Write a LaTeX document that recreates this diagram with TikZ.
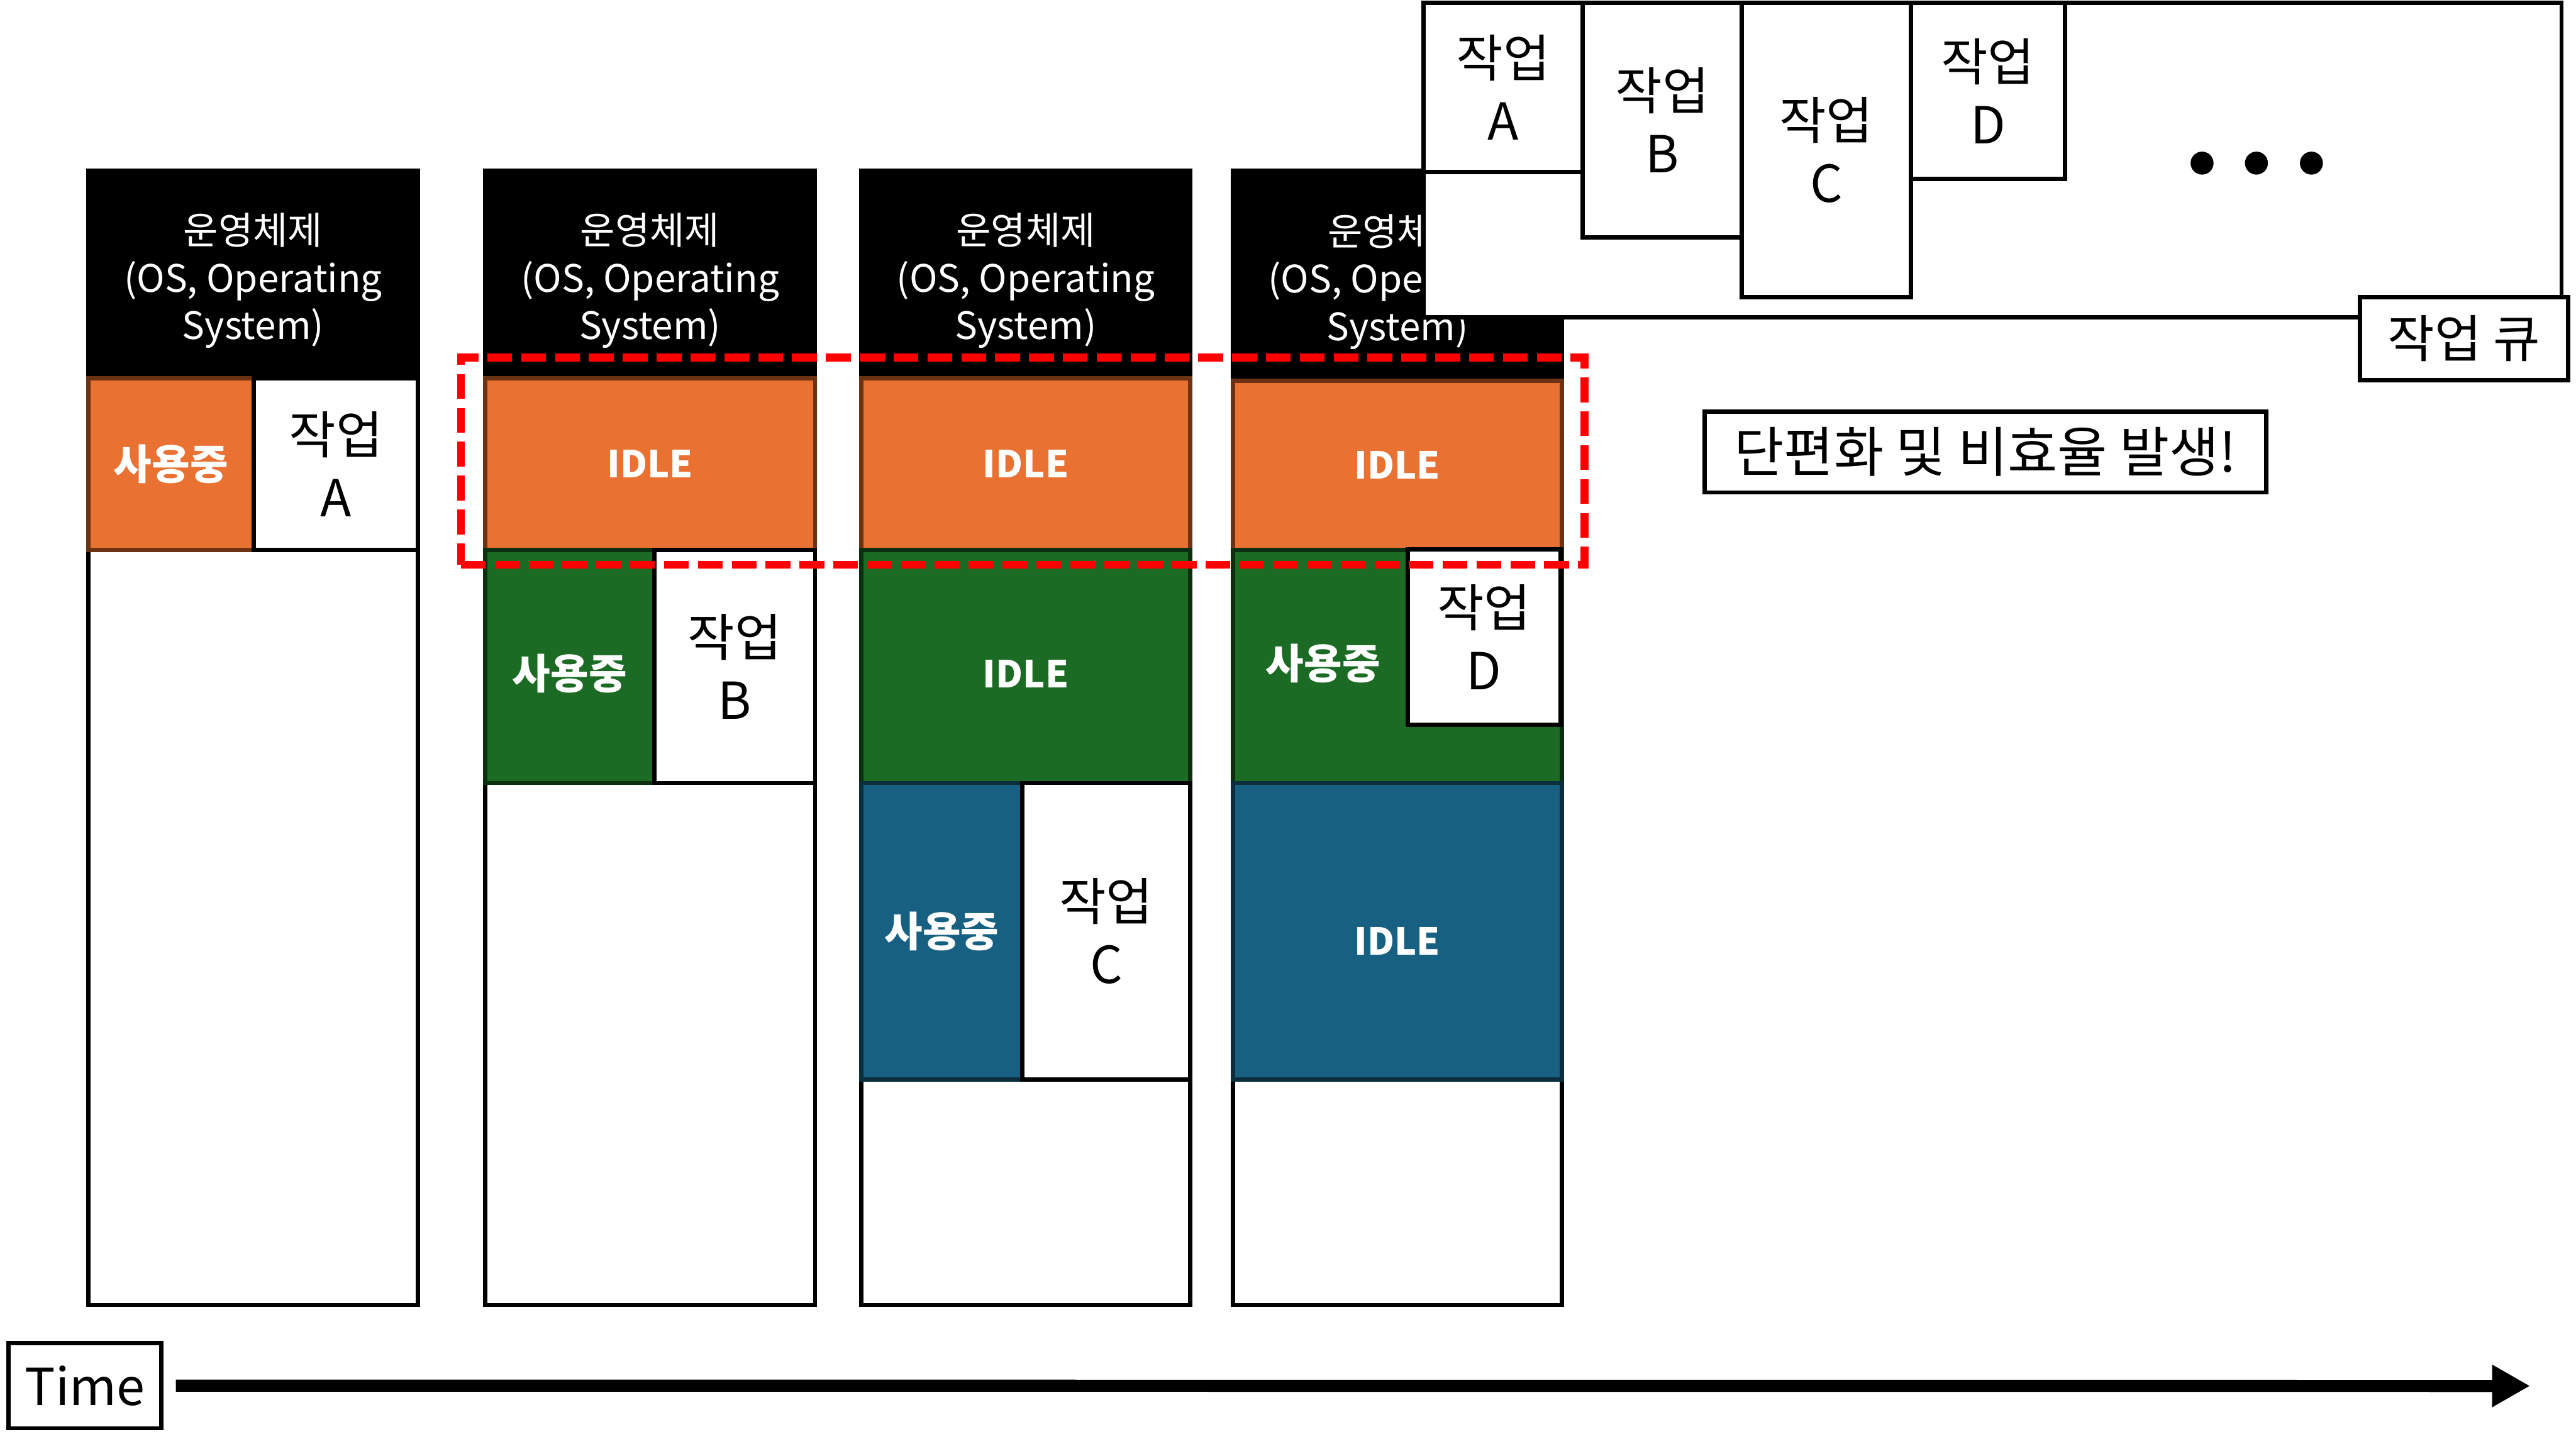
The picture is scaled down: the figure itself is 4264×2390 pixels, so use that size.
\documentclass[tikz,border=0pt]{standalone}
\usepackage{fontspec}
\setmainfont{Noto Sans CJK KR}
\usetikzlibrary{arrows.meta}
\definecolor{cOrange}{HTML}{E97132}
\definecolor{cOrangeD}{HTML}{6B3314}
\definecolor{cGreen}{HTML}{1B6B24}
\definecolor{cGreenD}{HTML}{0C2F10}
\definecolor{cBlue}{HTML}{176082}
\definecolor{cBlueD}{HTML}{0B2E3E}
% #1 style, #2 name, #3 x1, #4 y1, #5 x2, #6 y2, #7 text
\newcommand\mybox[7][]{%
  \pgfmathsetmacro\mycx{(#3+#5)/2}%
  \pgfmathsetmacro\mycy{(#4+#6)/2}%
  \pgfmathsetmacro\myw{(#5-#3)*0.01}%
  \pgfmathsetmacro\myh{(#6-#4)*0.01}%
  \node[#1, minimum width=\myw cm, minimum height=\myh cm] (#2) at (\mycx,\mycy) {#7};}
\newcommand\ostext{운영체제\\(OS, Operating\\System)}
\tikzset{
  base/.style={inner sep=0pt, outer sep=0pt, align=center, line width=0.07cm},
  colbox/.style={base, draw=black, fill=white},
  osbox/.style={base, draw=black, fill=black},
  ostxt/.style={align=center, inner sep=0pt, text=white, font=\fontsize{17.8}{22.3}\selectfont},
  bigtxt/.style={font=\fontsize{24}{29.6}\selectfont},
  boldtxt/.style={text=white, font=\bfseries\fontsize{19.5}{23}\selectfont},
  idletxt/.style={text=white, font=\bfseries\fontsize{17.5}{22}\selectfont},
  orangebox/.style={base, draw=cOrangeD, fill=cOrange},
  greenbox/.style={base, draw=cGreenD, fill=cGreen},
  bluebox/.style={base, draw=cBlueD, fill=cBlue},
  jobbox/.style={base, draw=black, fill=white, bigtxt},
  fragbox/.style={base, draw=red, line width=0.13cm, dash pattern=on 0.41cm off 0.15cm},
  dotnode/.style={circle, fill=black, inner sep=0pt, minimum size=0.38cm},
}
\begin{document}
\begin{tikzpicture}[x=0.01cm, y=-0.01cm]
\useasboundingbox (0,0) rectangle (4264,2390);
\fill[white] (0,0) rectangle (4264,2390);

% Column 1
\mybox[colbox]{c1}{146}{283}{692}{2160}{}
\mybox[osbox]{os1}{146}{283}{692}{626}{}
\node[ostxt] (os1t) at ([yshift=-0.1cm]os1.center) {\ostext};
\mybox[orangebox, boldtxt]{c1busy}{146}{626}{420}{910}{사용중}
\mybox[jobbox]{c1job}{420}{626}{692}{910}{작업\\A}

% Column 2
\mybox[colbox]{c2}{803}{283}{1349}{2160}{}
\mybox[osbox]{os2}{803}{283}{1349}{626}{}
\node[ostxt] (os2t) at ([yshift=-0.1cm]os2.center) {\ostext};
\mybox[orangebox, idletxt]{c2idle}{803}{626}{1349}{910}{IDLE}
\mybox[greenbox]{c2green}{803}{910}{1083}{1296}{}
\node[boldtxt] (c2busy) at ([yshift=-0.12cm]c2green.center) {사용중};
\mybox[jobbox]{c2job}{1083}{910}{1349}{1296}{작업\\B}

% Column 3
\mybox[colbox]{c3}{1426}{283}{1970}{2160}{}
\mybox[osbox]{os3}{1426}{283}{1970}{626}{}
\node[ostxt] (os3t) at ([yshift=-0.1cm]os3.center) {\ostext};
\mybox[orangebox, idletxt]{c3idle}{1426}{626}{1970}{910}{IDLE}
\mybox[greenbox]{c3green}{1426}{910}{1970}{1296}{}
\node[idletxt] (c3idleg) at ([yshift=-0.12cm]c3green.center) {IDLE};
\mybox[bluebox, boldtxt]{c3busy}{1426}{1296}{1692}{1787}{사용중}
\mybox[jobbox]{c3job}{1692}{1296}{1970}{1787}{작업\\C}

% Column 4
\mybox[colbox]{c4}{2041}{283}{2585}{2160}{}
\mybox[osbox]{os4}{2041}{283}{2585}{630}{}
\node[ostxt] (os4t) at ([yshift=-0.1cm]os4.center) {\ostext};
\mybox[orangebox, idletxt]{c4idle}{2041}{630}{2585}{910}{IDLE}
\mybox[greenbox]{c4green}{2041}{910}{2585}{1296}{}
\node[boldtxt] (c4busy) at (2190,1098) {사용중};
\mybox[jobbox]{c4job}{2330}{909}{2583}{1200}{작업\\D}
\mybox[bluebox]{c4blue}{2041}{1296}{2585}{1787}{}
\node[idletxt] (c4idleb) at ([yshift=-0.16cm]c4blue.center) {IDLE};

% Fragmentation highlight
\mybox[fragbox]{frag}{763}{592}{2623}{935}{}

% Job queue
\mybox[colbox]{queue}{2356}{5}{4240}{525}{}
\mybox[jobbox]{qa}{2356}{5}{2620}{285}{작업\\A}
\mybox[jobbox]{qb}{2620}{5}{2883}{393}{작업\\B}
\mybox[jobbox]{qc}{2883}{5}{3163}{492}{작업\\C}
\mybox[jobbox]{qd}{3163}{5}{3418}{296}{작업\\D}
\node[dotnode] (dot1) at (3645,270) {};
\node[dotnode] (dot2) at (3735,270) {};
\node[dotnode] (dot3) at (3826,270) {};
\mybox[jobbox]{qlabel}{3906}{492}{4251}{629}{작업 큐}

% Note
\mybox[jobbox, font=\fontsize{25.5}{30}\selectfont]{note}{2822}{681}{3751}{815}{단편화 및 비효율 발생!}

% Time axis
\mybox[jobbox]{time}{14}{2223}{267}{2364}{Time}
\coordinate (arrowend) at (4188,2294);
\draw[line width=0.2cm, -{Triangle[length=0.63cm,width=0.66cm]}]
  ([xshift=0.24cm]time.east) -- (arrowend);
\end{tikzpicture}
\end{document}
